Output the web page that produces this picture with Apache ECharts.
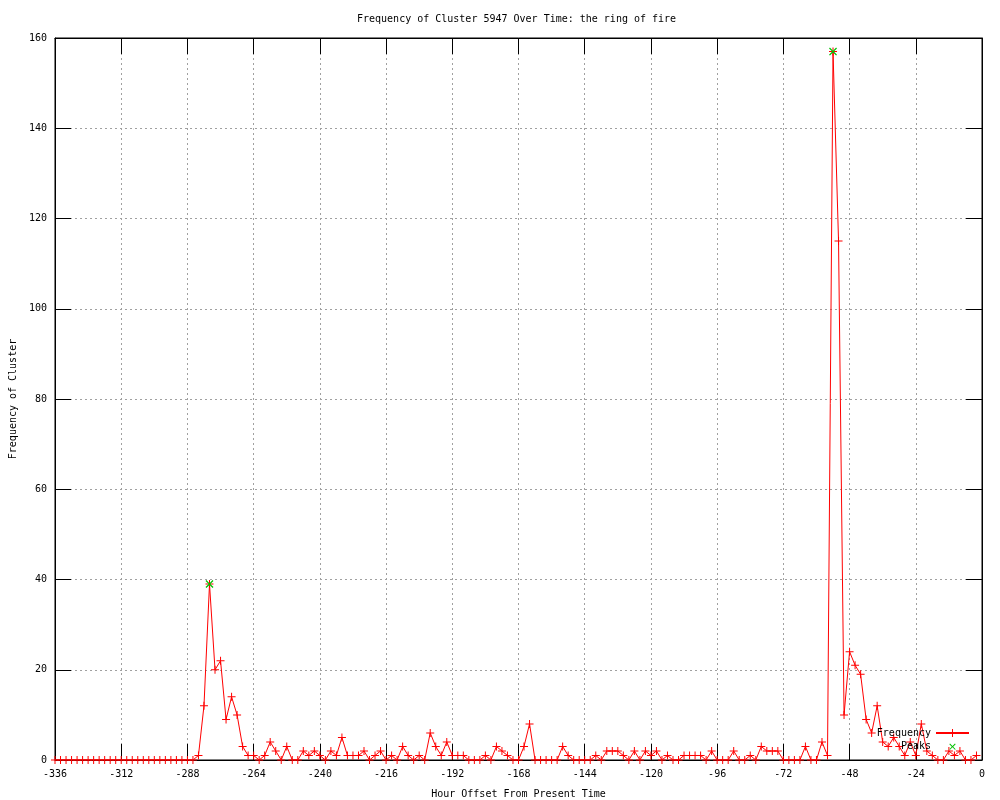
<!DOCTYPE html>
<html>
<head>
<meta charset="utf-8">
<title>Frequency of Cluster 5947</title>
<script src="https://cdn.jsdelivr.net/npm/echarts@6/dist/echarts.min.js"></script>
<style>
  html, body { margin: 0; padding: 0; background: #fff; }
  #chart { width: 1000px; height: 800px; }
</style>
</head>
<body>
<div id="chart"></div>
<script>
// hour offsets (one sample every 2 hours)
const hours = [
  -336, -334, -332, -330, -328, -326, -324, -322, -320, -318, -316, -314,
  -312, -310, -308, -306, -304, -302, -300, -298, -296, -294, -292, -290,
  -288, -286, -284, -282, -280, -278, -276, -274, -272, -270, -268, -266,
  -264, -262, -260, -258, -256, -254, -252, -250, -248, -246, -244, -242,
  -240, -238, -236, -234, -232, -230, -228, -226, -224, -222, -220, -218,
  -216, -214, -212, -210, -208, -206, -204, -202, -200, -198, -196, -194,
  -192, -190, -188, -186, -184, -182, -180, -178, -176, -174, -172, -170,
  -168, -166, -164, -162, -160, -158, -156, -154, -152, -150, -148, -146,
  -144, -142, -140, -138, -136, -134, -132, -130, -128, -126, -124, -122,
  -120, -118, -116, -114, -112, -110, -108, -106, -104, -102, -100, -98,
  -96, -94, -92, -90, -88, -86, -84, -82, -80, -78, -76, -74,
  -72, -70, -68, -66, -64, -62, -60, -58, -56, -54, -52, -50,
  -48, -46, -44, -42, -40, -38, -36, -34, -32, -30, -28, -26,
  -24, -22, -20, -18, -16, -14, -12, -10, -8, -6, -4, -2
];

// frequency of the cluster at each hour
const frequency = [
  0, 0, 0, 0, 0, 0, 0, 0, 0, 0, 0, 0,
  0, 0, 0, 0, 0, 0, 0, 0, 0, 0, 0, 0,
  0, 0, 1, 12, 39, 20, 22, 9, 14, 10, 3, 1,
  1, 0, 1, 4, 2, 0, 3, 0, 0, 2, 1, 2,
  1, 0, 2, 1, 5, 1, 1, 1, 2, 0, 1, 2,
  0, 1, 0, 3, 1, 0, 1, 0, 6, 3, 1, 4,
  1, 1, 1, 0, 0, 0, 1, 0, 3, 2, 1, 0,
  0, 3, 8, 0, 0, 0, 0, 0, 3, 1, 0, 0,
  0, 0, 1, 0, 2, 2, 2, 1, 0, 2, 0, 2,
  1, 2, 0, 1, 0, 0, 1, 1, 1, 1, 0, 2,
  0, 0, 0, 2, 0, 0, 1, 0, 3, 2, 2, 2,
  0, 0, 0, 0, 3, 0, 0, 4, 1, 157, 115, 10,
  24, 21, 19, 9, 6, 12, 4, 3, 5, 3, 1, 4,
  1, 8, 2, 1, 0, 0, 2, 1, 2, 0, 0, 1
];

// detected peaks
const peakHours = [-280, -54];
const peakValues = [39, 157];

const FONT = 'DejaVu Sans Mono';
// gnuplot style "+" marker
const PLUS = 'path://M3.5,0H4.5V3.5H8V4.5H4.5V8H3.5V4.5H0V3.5H3.5Z';

const chart = echarts.init(document.getElementById('chart'));

const axisText = { color: '#000', fontFamily: FONT, fontSize: 10 };
const gridLine = { show: true, lineStyle: { color: '#a0a0a0', width: 1, type: [2, 3] } };
const tick = { show: true, inside: true, length: 16, lineStyle: { color: '#000' } };
const line = { show: true, onZero: false, lineStyle: { color: '#000' } };

const option = {
  animation: false,
  backgroundColor: '#fff',
  title: {
    text: 'Frequency of Cluster 5947 Over Time: the ring of fire',
    left: 352,
    top: 9,
    textStyle: { color: '#000', fontFamily: FONT, fontSize: 10, fontWeight: 'normal' }
  },
  grid: {
    left: 55, right: 18, top: 38, bottom: 40,
    outerBoundsMode: 'none',
    show: true, borderColor: '#000', borderWidth: 1, backgroundColor: 'transparent'
  },
  legend: [
    {
      data: ['Frequency'],
      right: 30, top: 728, padding: 0,
      align: 'right',
      itemWidth: 33, itemHeight: 10,
      textStyle: axisText
    },
    {
      data: ['Peaks'],
      right: 30, top: 741, padding: 0,
      align: 'right',
      itemWidth: 33, itemHeight: 10,
      textStyle: axisText
    }
  ],
  xAxis: [
    {
      type: 'value',
      min: -336, max: 0, interval: 24,
      name: 'Hour Offset From Present Time',
      nameLocation: 'middle',
      nameGap: 29,
      nameTextStyle: axisText,
      axisLine: line,
      axisTick: tick,
      axisLabel: Object.assign({ margin: 9 }, axisText),
      splitLine: gridLine
    },
    {
      // mirrored ticks on top
      type: 'value',
      position: 'top',
      min: -336, max: 0, interval: 24,
      axisLine: line,
      axisTick: tick,
      axisLabel: { show: false },
      splitLine: { show: false }
    }
  ],
  yAxis: [
    {
      type: 'value',
      position: 'left',
      min: 0, max: 160, interval: 20,
      name: 'Frequency of Cluster',
      nameLocation: 'middle',
      nameGap: 37,
      nameTextStyle: axisText,
      axisLine: line,
      axisTick: tick,
      axisLabel: Object.assign({ margin: 8 }, axisText),
      splitLine: gridLine
    },
    {
      // mirrored ticks on the right
      type: 'value',
      position: 'right',
      min: 0, max: 160, interval: 20,
      axisLine: line,
      axisTick: tick,
      axisLabel: { show: false },
      splitLine: { show: false }
    }
  ],
  series: [
    {
      name: 'Frequency',
      type: 'line',
      xAxisIndex: 0,
      yAxisIndex: 0,
      data: hours.map((h, i) => [h, frequency[i]]),
      symbol: PLUS,
      symbolSize: 8,
      showSymbol: true,
      showAllSymbol: true,
      color: '#ff0000',
      lineStyle: { color: '#ff0000', width: 1 },
      itemStyle: { color: '#ff0000' }
    },
    {
      name: 'Peaks',
      type: 'line',
      xAxisIndex: 0,
      yAxisIndex: 0,
      data: peakHours.map((h, i) => [h, peakValues[i]]),
      symbol: PLUS,
      symbolSize: 10,
      symbolRotate: 45,
      showSymbol: true,
      color: '#00c000',
      lineStyle: { opacity: 0 },
      itemStyle: { color: '#00c000' }
    }
  ]
};

chart.setOption(option);
</script>
</body>
</html>
